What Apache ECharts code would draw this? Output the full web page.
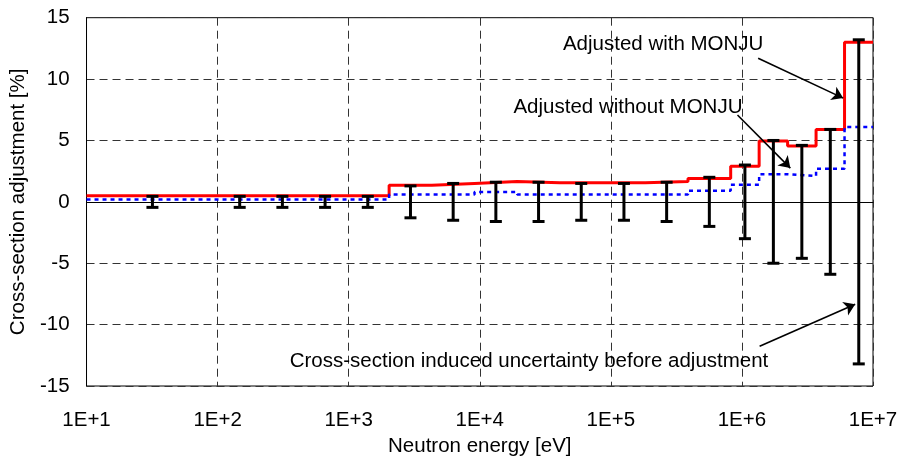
<!DOCTYPE html>
<html>
<head>
<meta charset="utf-8">
<script src="https://cdn.jsdelivr.net/npm/echarts@6/dist/echarts.min.js"></script>
<style>
html,body{margin:0;padding:0;background:#fff;}
#chart{width:901px;height:462px;}
</style>
</head>
<body>
<div id="chart"></div>
<script>
// Energy group boundaries [eV] (read from the step positions)
const groupBounds = [10, 101.3, 214.5, 454.0, 961.1, 2035, 4307, 9119, 19305, 40868, 86517, 183156, 387742, 820850, 1353353, 2231302, 3678794, 6065307, 10000000];
// Cross-section adjustment [%] per group, adjusted with MONJU (red)
const adjWithMonju = [0.5, 0.5, 0.5, 0.5, 0.5, 1.35, 1.5, 1.65, 1.55, 1.55, 1.55, 1.65, 1.9, 2.9, 4.95, 4.55, 5.9, 13.0];
// Adjusted without MONJU (blue dotted)
const adjWithoutMonju = [0.2, 0.2, 0.2, 0.2, 0.2, 0.6, 0.6, 0.8, 0.6, 0.6, 0.6, 0.6, 0.9, 1.4, 2.25, 2.1, 2.7, 6.1];
// Cross-section induced uncertainty before adjustment (+/-) [%]
const uncertainty = [0.45, 0.45, 0.45, 0.45, 0.45, 1.3, 1.5, 1.6, 1.6, 1.5, 1.5, 1.6, 2.0, 3.0, 5.0, 4.6, 5.9, 13.2];
// Axis ticks
const yTicks = [-15, -10, -5, 0, 5, 10, 15];
const xMin = 10, xMax = 1e7;

const labelWith = 'Adjusted with MONJU';
const labelWithout = 'Adjusted without MONJU';
const labelUnc = 'Cross-section induced uncertainty before adjustment';

const FF = '"Liberation Sans", Arial, sans-serif';
const FS = 20.5;

function stepData(vals){
  const d = [];
  for (let i = 0; i < vals.length; i++) d.push([groupBounds[i], vals[i]]);
  d.push([groupBounds[groupBounds.length - 1], vals[vals.length - 1]]);
  return d;
}
const errData = uncertainty.map((u, i) => [Math.sqrt(groupBounds[i] * groupBounds[i + 1]), u]);

const chart = echarts.init(document.getElementById('chart'), null, {renderer: 'canvas'});
const txt = {fontFamily: FF, fontSize: FS, color: '#000'};
const arrowStyle = {color: '#000', width: 1.6, type: 'solid'};

chart.setOption({
  backgroundColor: '#fff',
  animation: false,
  textStyle: {fontFamily: FF},
  grid: {left: 84.5, right: 28, top: 17.7, bottom: 76, show: true, borderColor: '#000', borderWidth: 1, backgroundColor: 'transparent'},
  xAxis: {
    type: 'log', logBase: 10, min: xMin, max: xMax,
    name: 'Neutron energy [eV]', nameLocation: 'middle', nameGap: 47,
    nameTextStyle: txt,
    axisLine: {show: true, lineStyle: {color: '#000', width: 1}},
    axisTick: {show: false},
    axisLabel: Object.assign({margin: 24, formatter: v => '1E+' + Math.round(Math.log10(v))}, txt),
    splitLine: {show: true, lineStyle: {color: '#333', width: 1, type: [8, 5]}}
  },
  yAxis: {
    type: 'value', min: yTicks[0], max: yTicks[yTicks.length - 1], interval: 5,
    name: 'Cross-section adjustment [%]', nameLocation: 'middle', nameGap: 38,
    nameTextStyle: txt,
    axisLine: {show: true, lineStyle: {color: '#000', width: 1}},
    axisTick: {show: false},
    axisLabel: Object.assign({margin: 17}, txt),
    splitLine: {show: true, lineStyle: {color: '#333', width: 1, type: [8, 5]}}
  },
  series: [
    {
      name: labelWith, type: 'line', step: 'end', data: stepData(adjWithMonju),
      symbol: 'none', z: 3,
      lineStyle: {color: '#ff0000', width: 3},
      markLine: {
        silent: true, animation: false, z: 2,
        symbol: ['none', 'none'],
        label: {show: false},
        lineStyle: {color: '#000', width: 1, type: 'solid'},
        data: [{yAxis: 0}]
      }
    },
    {
      name: labelWithout, type: 'line', step: 'end', data: stepData(adjWithoutMonju),
      symbol: 'none', z: 4,
      lineStyle: {color: '#0000ff', width: 2.5, type: [4, 4]}
    },
    {
      name: 'uncertainty', type: 'custom', data: errData, z: 5,
      renderItem: function (params, api) {
        const x = api.value(0), u = api.value(1);
        const top = api.coord([x, u]);
        const bot = api.coord([x, -u]);
        const hw = 6;
        const st = {stroke: '#000', lineWidth: 3};
        return {type: 'group', children: [
          {type: 'line', shape: {x1: top[0], y1: top[1], x2: bot[0], y2: bot[1]}, style: st},
          {type: 'line', shape: {x1: top[0] - hw, y1: top[1], x2: top[0] + hw, y2: top[1]}, style: st},
          {type: 'line', shape: {x1: bot[0] - hw, y1: bot[1], x2: bot[0] + hw, y2: bot[1]}, style: st}
        ]};
      }
    },
    {
      name: 'annotations', type: 'line', data: [], z: 6,
      markLine: {
        silent: true, animation: false,
        symbol: ['none', 'arrow'], symbolSize: 11,
        label: {show: false},
        lineStyle: arrowStyle,
        data: [
          [{coord: [1.33e6, 11.7]}, {coord: [5.92e6, 8.45]}],
          [{coord: [9.25e5, 7.07]}, {coord: [2.34e6, 2.75]}],
          [{coord: [1.365e6, -11.76]}, {coord: [7.31e6, -8.34]}]
        ]
      },
      markPoint: {
        silent: true, animation: false,
        symbol: 'circle', symbolSize: 0,
        label: Object.assign({show: true, position: 'left', distance: 0, verticalAlign: 'middle'}, txt),
        data: [
          {coord: [1.459e6, 12.8], label: {formatter: labelWith}},
          {coord: [1.009e6, 7.7], label: {formatter: labelWithout}},
          {coord: [1.59e6, -13.0], label: {formatter: labelUnc}}
        ]
      }
    }
  ]
});
</script>
</body>
</html>
